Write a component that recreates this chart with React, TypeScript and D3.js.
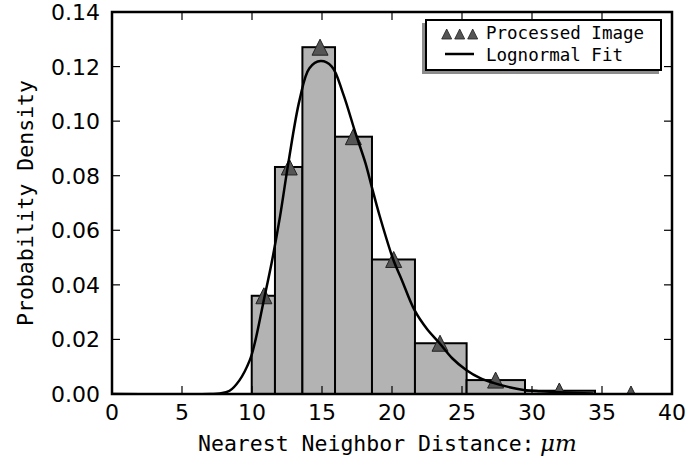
import React from "react";
import * as d3 from "d3";

// ---- data ----
const binEdges = [9.98, 11.64, 13.6, 15.93, 18.57, 21.64, 25.33, 29.5, 34.5];
const binDensity = [0.036, 0.0832, 0.1271, 0.0943, 0.0493, 0.0186, 0.0051, 0.0012];

const markerX = [10.85, 12.66, 14.86, 17.24, 20.12, 23.43, 27.4, 31.95, 37.07];
const markerY = [0.036, 0.0832, 0.1271, 0.0943, 0.0493, 0.0186, 0.0051, 0.0011, 0.0];

const fitX = [0, 7.0, 7.7, 8.4, 9.1, 9.85, 10.2, 10.8, 11.4, 12.0, 12.6, 13.4, 14.1, 14.9, 15.7, 16.5, 17.4, 18.1, 18.55, 19.1, 20.1, 20.7, 21.6, 22.5, 23.4, 24.3, 25.3, 26.3, 27.3, 28.3, 29.4, 30.6, 32.0, 33.2, 34.4];
const fitY = [0, 0, 0.0002, 0.0012, 0.005, 0.0125, 0.0187, 0.0333, 0.048, 0.065, 0.0848, 0.1078, 0.1194, 0.122, 0.12, 0.1102, 0.0955, 0.0847, 0.076, 0.0656, 0.0491, 0.0418, 0.0308, 0.0238, 0.0186, 0.0131, 0.0088, 0.0058, 0.004, 0.0026, 0.0015, 0.001, 0.0006, 0.0004, 0.0002];

const xTicks = [0, 5, 10, 15, 20, 25, 30, 35, 40];
const yTicks = [0, 0.02, 0.04, 0.06, 0.08, 0.1, 0.12, 0.14];

const legendLabels = ["Processed Image", "Lognormal Fit"];
const xLabel = "Nearest Neighbor Distance:";
const xLabelMath = "\u03bcm";
const yLabel = "Probability Density";

// ---- layout ----
const W = 689;
const H = 464;
const L = 112, R = 672, T = 12, B = 394;

export default function App() {
  const x = d3.scaleLinear().domain([0, 40]).range([L, R]);
  const y = d3.scaleLinear().domain([0, 0.14]).range([B, T]);

  const line = d3
    .line<number>()
    .x((_, i) => x(fitX[i]))
    .y((d) => y(d))
    .curve(d3.curveCatmullRom.alpha(0.5));

  const tri = (cx: number, cy: number, s: number) =>
    `M${cx},${cy - s / 2}L${cx - s / 2},${cy + s / 2}L${cx + s / 2},${cy + s / 2}Z`;

  const tickLen = 8;
  const mono = "'DejaVu Sans Mono', monospace";
  const sans = "'DejaVu Sans', sans-serif";

  return (
    <svg width={W} height={H} style={{ position: "absolute", left: 0, top: 0 }}>
      <rect x={0} y={0} width={W} height={H} fill="white" />
      <defs>
        <clipPath id="plotclip">
          <rect x={L} y={T} width={R - L} height={B - T} />
        </clipPath>
      </defs>
      <g clipPath="url(#plotclip)">
        {binDensity.map((d, i) => (
          <rect
            key={"b" + i}
            x={x(binEdges[i])}
            y={y(d)}
            width={x(binEdges[i + 1]) - x(binEdges[i])}
            height={B - y(d)}
            fill="#b3b3b3"
            stroke="#000"
            strokeWidth={2}
          />
        ))}
        {markerY.map((d, i) => (
          <path
            key={"m" + i}
            d={tri(x(markerX[i]), y(d), 16)}
            fill="#555555"
            stroke="#222"
            strokeWidth={1}
          />
        ))}
        <path d={line(fitY) || ""} fill="none" stroke="#000" strokeWidth={2.5} />
      </g>

      {/* ticks */}
      {xTicks.map((t) => (
        <g key={"xt" + t}>
          <line x1={x(t)} x2={x(t)} y1={B} y2={B - tickLen} stroke="#000" strokeWidth={1.2} />
          <line x1={x(t)} x2={x(t)} y1={T} y2={T + tickLen} stroke="#000" strokeWidth={1.2} />
          <text x={x(t)} y={420} textAnchor="middle" fontFamily={sans} fontSize={22} fill="#000">
            {t}
          </text>
        </g>
      ))}
      {yTicks.map((t) => (
        <g key={"yt" + t}>
          <line x1={L} x2={L + tickLen} y1={y(t)} y2={y(t)} stroke="#000" strokeWidth={1.2} />
          <line x1={R} x2={R - tickLen} y1={y(t)} y2={y(t)} stroke="#000" strokeWidth={1.2} />
          <text x={100} y={y(t) + 8} textAnchor="end" fontFamily={sans} fontSize={22} fill="#000">
            {t.toFixed(2)}
          </text>
        </g>
      ))}

      {/* frame */}
      <rect x={L} y={T} width={R - L} height={B - T} fill="none" stroke="#000" strokeWidth={2.5} />

      {/* legend */}
      <g>
        <rect x={422} y={23} width={237} height={51} fill="#8c8c8c" />
        <rect x={426} y={20} width={235} height={50} fill="#fff" stroke="#000" strokeWidth={2} />
        {[446.7, 459.7, 472.7].map((cx, i) => (
          <path key={"lm" + i} d={tri(cx, 34, 10)} fill="#555555" stroke="#222" strokeWidth={0.8} />
        ))}
        <line x1={445} x2={474} y1={54} y2={54} stroke="#000" strokeWidth={2.5} />
        <text x={486} y={39} fontFamily={mono} fontSize={17.5} fill="#000">
          {legendLabels[0]}
        </text>
        <text x={486} y={61} fontFamily={mono} fontSize={17.5} fill="#000">
          {legendLabels[1]}
        </text>
      </g>

      {/* axis labels */}
      <text x={198} y={451} fontFamily={mono} fontSize={21.5} fill="#000">
        {xLabel}
      </text>
      <text x={540} y={451} fontFamily="'DejaVu Serif', serif" fontStyle="italic" fontSize={23} fill="#000">
        {xLabelMath}
      </text>
      <text
        transform={`translate(33,${(T + B) / 2}) rotate(-90)`}
        textAnchor="middle"
        fontFamily={mono}
        fontSize={21.5}
        fill="#000"
      >
        {yLabel}
      </text>
    </svg>
  );
}
